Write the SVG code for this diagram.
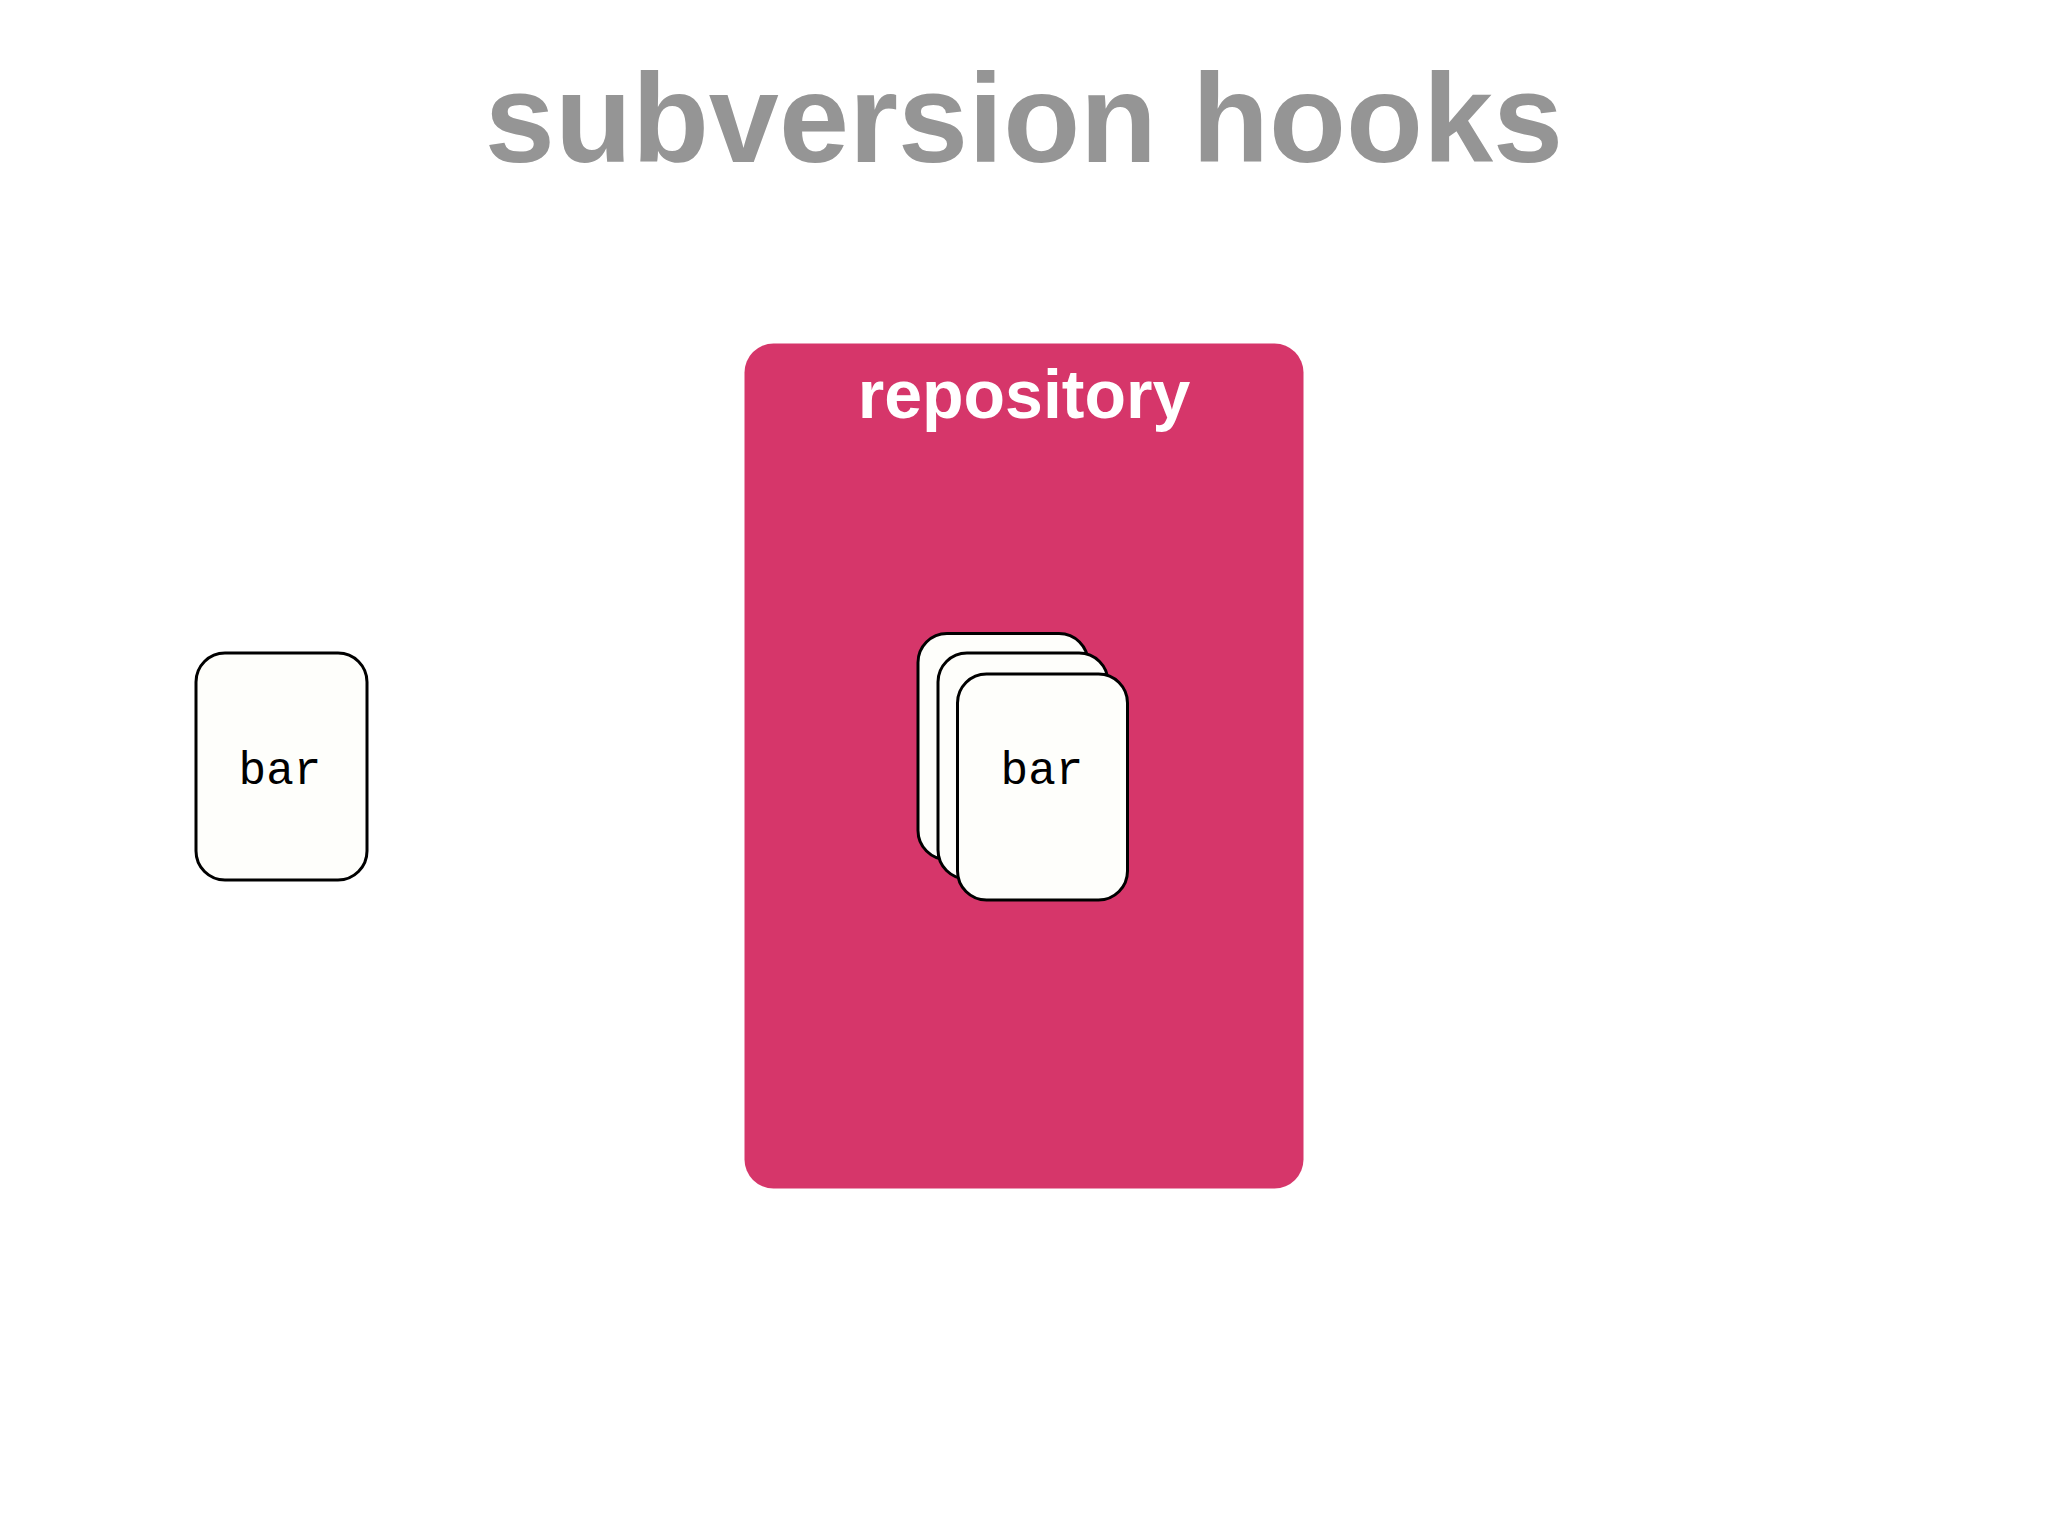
<svg xmlns="http://www.w3.org/2000/svg" width="2048" height="1536" viewBox="0 0 2048 1536">
<style>
.card{fill:#fefefb;stroke:#000;stroke-width:3}
.lbl{font-family:"Liberation Mono",monospace;font-size:46px;fill:#000;text-anchor:middle}
</style>
<rect width="2048" height="1536" fill="#fff"/>
<text x="1024" y="162" font-family="Liberation Sans,Arial,sans-serif" font-weight="bold" font-size="126" fill="#959595" text-anchor="middle">subversion hooks</text>
<g id="repository">
<rect x="744.5" y="343.5" width="559" height="845" rx="29" fill="#d6366a"/>
<text x="1024" y="418" font-family="Liberation Sans,Arial,sans-serif" font-weight="bold" font-size="68" fill="#fff" text-anchor="middle">repository</text>
</g>
<g id="bar-left">
<rect class="card" x="196" y="653" width="171" height="227" rx="29"/>
<text class="lbl" x="280" y="784">bar</text>
</g>
<g id="bar-stack">
<rect class="card" x="918" y="633.5" width="170" height="226" rx="29"/>
<rect class="card" x="938" y="653" width="170" height="226" rx="29"/>
<rect class="card" x="957.5" y="674" width="170" height="226" rx="29"/>
<text class="lbl" x="1042" y="784">bar</text>
</g>
<g id="connectors"/>
</svg>
